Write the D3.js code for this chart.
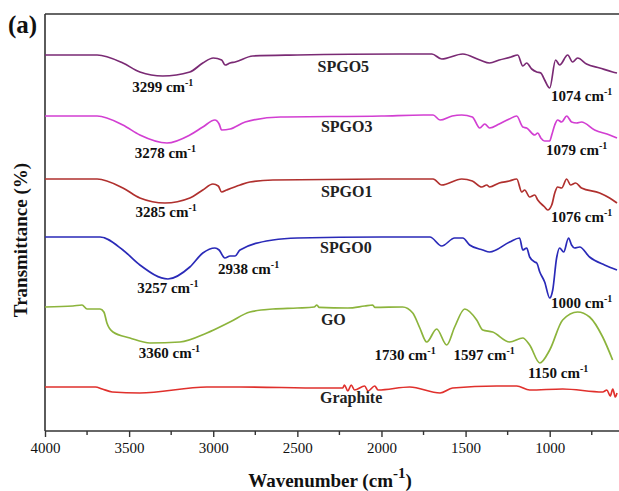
<!DOCTYPE html>
<html>
<head>
<meta charset="utf-8">
<script src="https://cdn.jsdelivr.net/npm/d3@7"></script>
<style>
  body { margin: 0; background: #fff; }
  text { font-family: "Liberation Serif", "Times New Roman", serif; }
</style>
</head>
<body>
<div id="chart"></div>
<script>
// spectra: [wavenumber (cm-1), transmittance (a.u., stacked offsets)]
const spgo5 = [[4000,94],[3690,94],[3537,92],[3436,89.75],[3300,88.75],[3139,89.75],[3062,92],[3000,93.25],[2950,92.75],[2930,91.5],[2900,92],[2870,92.25],[2765,93.75],[2500,94],[1891,94.25],[1700,94.25],[1642,93],[1517,94.25],[1415,92.75],[1357,92],[1300,92.75],[1230,93.5],[1190,94],[1160,91.25],[1137,92],[1107,90.5],[1077,89.75],[1053,89.5],[1030,87.75],[1000,85.75],[965,92.75],[941,91.5],[893,94],[864,92.25],[834,93.25],[781,91.75],[703,90.75],[626,89.75],[600,89.5]];
const spgo3 = [[4000,78.75],[3690,78.75],[3537,76.5],[3436,74],[3275,72],[3139,74],[3062,76],[2990,77.75],[2965,76.75],[2950,75.25],[2900,75.5],[2810,77.25],[2600,78.5],[2000,78.75],[1750,79],[1693,79],[1652,77.75],[1580,78.75],[1523,79],[1460,78.5],[1416,75.75],[1386,76.75],[1357,75.75],[1300,76.75],[1240,78],[1196,78.75],[1160,76],[1137,75.75],[1089,74],[1071,74.5],[1053,73.25],[1030,72.5],[1000,72.5],[988,74],[970,76.5],[953,77.75],[929,77.25],[899,78.75],[870,77.25],[840,77],[811,77.25],[733,75.25],[644,74],[600,73.25]];
const spgo1 = [[4000,63],[3690,63],[3537,60.75],[3436,58.25],[3287,57],[3139,58.25],[3062,60.25],[3002,61.75],[2970,61.25],[2950,59.75],[2920,60.25],[2840,61.5],[2782,62.25],[2645,62.75],[2000,63],[1693,63],[1642,61.5],[1523,63],[1460,62.5],[1404,61],[1374,61.5],[1357,61],[1300,62],[1240,62.5],[1196,63],[1166,59.75],[1149,60.25],[1119,58.5],[1089,59],[1071,57.75],[1030,56],[1012,55.25],[988,56.5],[970,59.5],[953,61],[929,60.75],[899,63],[876,61.5],[846,62],[811,60.75],[703,59.5],[644,58.25],[600,57]];
const spgo0 = [[4000,48.5],[3673,48.5],[3537,45.25],[3436,41.5],[3269,38],[3139,41],[3062,44.5],[2990,45.75],[2965,45.25],[2931,43.25],[2900,43.75],[2870,43.75],[2841,45.25],[2645,47.75],[2500,48.25],[2000,48.5],[1712,48.5],[1642,46.25],[1565,48.25],[1517,48.25],[1476,46.5],[1398,45.25],[1357,44.75],[1238,47.25],[1179,48.25],[1160,45.25],[1137,45.75],[1119,43.5],[1089,42.25],[1077,42],[1059,39.75],[1030,37.25],[1000,33.25],[982,35.25],[959,43.25],[941,45.75],[917,44.75],[888,48.25],[870,46.5],[852,45.75],[822,46],[763,43.5],[674,41.5],[600,40.25]];
const go = [[4000,31],[3834,31.25],[3780,31.5],[3750,30.5],[3673,30.5],[3650,29.75],[3632,27],[3596,24.75],[3495,23.25],[3376,22],[3198,22.25],[3038,24.5],[2901,27.25],[2782,29.75],[2645,30.5],[2500,30.75],[2400,31],[2384,31.5],[2370,30.9],[2200,30.75],[2100,31.25],[2052,31.5],[2040,30.9],[1874,31],[1814,29.5],[1772,25.75],[1731,22.25],[1672,25.5],[1612,21.5],[1565,26],[1505,30.5],[1434,27.75],[1398,25.25],[1339,24.75],[1238,22.25],[1160,23.25],[1119,21.5],[1059,17],[1000,20.25],[923,27.75],[834,29.75],[763,28.5],[685,23.5],[626,17.75]];
const graphite = [[4000,11],[3700,11],[3660,10.5],[3600,9.75],[3436,9.5],[3038,11],[2841,11],[2350,10.75],[2230,10.75],[2220,11.5],[2200,10],[2180,11.5],[2160,10.25],[2100,11.25],[2080,10],[2040,11.25],[2020,10.25],[1832,11],[1652,9.5],[1577,10.75],[1315,11.25],[1196,11.25],[1119,10.25],[923,10.5],[685,9.75],[660,10.25],[640,8.75],[625,10.5],[610,8.5],[600,9.5]];

const seriesNames = ["SPGO5", "SPGO3", "SPGO1", "SPGO0", "GO", "Graphite"];
const seriesData = [spgo5, spgo3, spgo1, spgo0, go, graphite];
const seriesColors = ["#7a2a74", "#d23fd2", "#b0302e", "#2a2ab8", "#8cb43c", "#e0302c"];

// name labels: [wavenumber at left edge, transmittance at baseline]
const nameLabels = [[2380, 89.75], [2360, 74.75], [2360, 58.5], [2365, 44.5], [2360, 26.5], [2365, 7]];
// peak labels: [text number, wavenumber (centre), transmittance (baseline)]
const peakLabels = [
  ["3299", 3300, 84.75], ["1074", 810, 82.5],
  ["3278", 3285, 68.25], ["1079", 840, 69],
  ["3285", 3280, 53.5], ["1076", 810, 52.25],
  ["3257", 3270, 34.5], ["2938", 2790, 39.25], ["1000", 810, 30.75],
  ["3360", 3260, 18.25], ["1730", 1860, 17.75], ["1597", 1390, 17.75], ["1150", 950, 13.25]
];
const xTicks = [4000, 3500, 3000, 2500, 2000, 1500, 1000];
const xMinor = [3750, 3250, 2750, 2250, 1750, 1250, 750];

const W = 619, H = 491;
const M = { TOP: 14, LEFT: 45, BOTTOM: 431, RIGHT: 617 };

const svg = d3.select("#chart").append("svg")
  .attr("width", W).attr("height", H);

const x = d3.scaleLinear().domain([4000, 600]).range([M.LEFT, M.RIGHT]);
const y = d3.scaleLinear().domain([0, 100]).range([M.BOTTOM, M.BOTTOM - 400]);

// FRAME
svg.append("line")
  .attr("x1", M.LEFT).attr("x2", W).attr("y1", M.TOP).attr("y2", M.TOP)
  .attr("stroke", "#333").attr("stroke-width", 1.6);
svg.append("line")
  .attr("x1", M.LEFT).attr("x2", M.LEFT).attr("y1", M.TOP).attr("y2", M.BOTTOM)
  .attr("stroke", "#333").attr("stroke-width", 1.6);

// X AXIS
const xAxis = svg.append("g")
  .attr("transform", `translate(0, ${M.BOTTOM})`)
  .call(d3.axisBottom(x).tickValues(xTicks).tickSize(6).tickPadding(5).tickFormat(d3.format("d")));
xAxis.select(".domain").attr("stroke", "#333").attr("stroke-width", 1.6)
  .attr("d", `M${M.LEFT},0H${W}`);
xAxis.selectAll(".tick line").attr("stroke", "#333").attr("stroke-width", 1.4);
xAxis.selectAll("text").attr("font-size", 15).attr("fill", "#111")
  .style("font-family", "'Liberation Serif', serif");

svg.append("g")
  .attr("transform", `translate(0, ${M.BOTTOM})`)
  .selectAll("line").data(xMinor).enter().append("line")
  .attr("x1", d => x(d)).attr("x2", d => x(d))
  .attr("y1", 0).attr("y2", 4)
  .attr("stroke", "#333").attr("stroke-width", 1.4);

// SPECTRA
const line = d3.line()
  .x(d => x(d[0]))
  .y(d => y(d[1]))
  .curve(d3.curveMonotoneX);

svg.selectAll(".spec").data(seriesData).enter().append("path")
  .attr("class", "spec")
  .attr("d", d => line(d))
  .attr("fill", "none")
  .attr("stroke", (d, i) => seriesColors[i])
  .attr("stroke-width", 1.7)
  .attr("stroke-linejoin", "round");

// SERIES NAMES
svg.selectAll(".name").data(nameLabels).enter().append("text")
  .attr("class", "name")
  .attr("x", d => x(d[0]))
  .attr("y", d => y(d[1]))
  .attr("font-size", 16)
  .attr("font-weight", "bold")
  .attr("fill", "#222")
  .text((d, i) => seriesNames[i]);

// PEAK LABELS
const pk = svg.selectAll(".peak").data(peakLabels).enter().append("text")
  .attr("class", "peak")
  .attr("x", d => x(d[1]))
  .attr("y", d => y(d[2]))
  .attr("text-anchor", "middle")
  .attr("font-size", 15)
  .attr("font-weight", "bold")
  .attr("fill", "#111");
pk.append("tspan").text(d => d[0] + " cm");
pk.append("tspan").attr("dy", -6).attr("font-size", 10).text("-1");

// AXIS TITLES
const xt = svg.append("text")
  .attr("x", 330).attr("y", 487)
  .attr("text-anchor", "middle")
  .attr("font-size", 19).attr("font-weight", "bold").attr("fill", "#111");
xt.append("tspan").text("Wavenumber (cm");
xt.append("tspan").attr("dy", -9).attr("font-size", 15).text("-1");
xt.append("tspan").attr("dy", 9).text(")");

svg.append("text")
  .attr("transform", "translate(27, 240) rotate(-90)")
  .attr("text-anchor", "middle")
  .attr("font-size", 19).attr("font-weight", "bold").attr("fill", "#111")
  .text("Transmittance (%)");

svg.append("text")
  .attr("x", 8).attr("y", 33)
  .attr("font-size", 25).attr("font-weight", "bold").attr("fill", "#111")
  .text("(a)");
</script>
</body>
</html>
